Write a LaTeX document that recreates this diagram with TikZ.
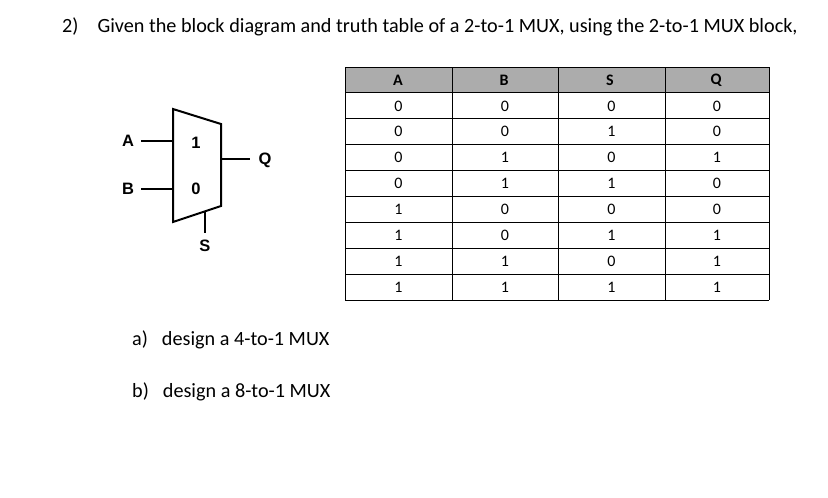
\documentclass[tikz,border=0pt]{standalone}
\usepackage{fontspec}
\setmainfont{Carlito}
\newfontfamily\arialf{Liberation Sans}
\begin{document}
\begin{tikzpicture}[x=1pt,y=-1pt,
  mux/.style={line width=2pt},
  lbl/.style={font=\arialf\bfseries\fontsize{16.5}{18}\selectfont,inner sep=0pt},
  cell/.style={font=\fontsize{16}{18}\selectfont,inner sep=0pt},
  txt/.style={font=\fontsize{20.2}{24}\selectfont,inner sep=0pt,anchor=west}]
\useasboundingbox (0,0) rectangle (828,498);
\node[txt] (title) at (62,27) {2)\hspace{19pt}Given the block diagram and truth table of a 2-to-1 MUX, using the 2-to-1 MUX block,};
% MUX
\draw[mux] (173,109) coordinate (tl) -- (221,124) coordinate (tr) -- (221,206) coordinate (br) -- (173,222) coordinate (bl) -- cycle;
\coordinate (ia) at (173,141); \coordinate (ib) at (173,189);
\coordinate (oq) at (221,159); \coordinate (os) at (205,211.5);
\node[lbl] (A) at (128,141) {A};
\node[lbl] (B) at (128,189) {B};
\node[lbl] (Q) at (265,160) {Q};
\node[lbl] (S) at (205,246) {S};
\node[lbl] (one) at (196,143) {1};
\node[lbl] (zero) at (196,189) {0};
\draw[mux] (141,141) coordinate (ae) -- (ia);
\draw[mux] (141,189) coordinate (be) -- (ib);
\draw[mux] (oq) -- (250,159) coordinate (qe);
\draw[mux] (os) -- (205,233) coordinate (se);
% table
\fill[gray!65] (345,67) rectangle (769,93);
\foreach \i in {0,...,9} \draw[line width=1pt] (345,{67+25.9*\i}) -- (769,{67+25.9*\i});
\foreach \x in {345,452,558,665,769} \draw[line width=1pt] (\x,67) -- (\x,300.1);
\foreach \t [count=\c] in {A,B,S,Q}
  \node[cell,font=\bfseries\fontsize{16}{18}\selectfont] (h\c) at ({345+106*(\c-1)+53},80) {\t};
\foreach \a/\b/\s/\q [count=\r] in {0/0/0/0,0/0/1/0,0/1/0/1,0/1/1/0,1/0/0/0,1/0/1/1,1/1/0/1,1/1/1/1}{
  \node[cell] (a\r) at (398.5,{67+25.9*\r+13}) {\a};
  \node[cell] (b\r) at (505,{67+25.9*\r+13}) {\b};
  \node[cell] (s\r) at (611.5,{67+25.9*\r+13}) {\s};
  \node[cell] (q\r) at (717,{67+25.9*\r+13}) {\q};
}
\node[txt] (qa) at (132,340) {a)\hspace{14pt}design a 4-to-1 MUX};
\node[txt] (qb) at (132,392) {b)\hspace{14pt}design a 8-to-1 MUX};
\end{tikzpicture}
\end{document}
